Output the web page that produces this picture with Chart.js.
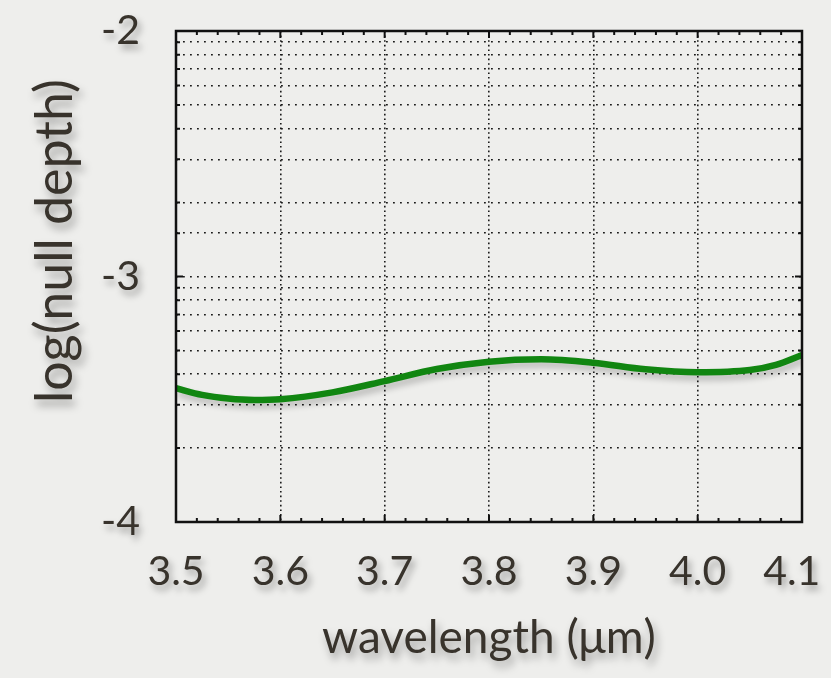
<!DOCTYPE html>
<html>
<head>
<meta charset="utf-8">
<script src="https://cdn.jsdelivr.net/npm/chart.js@4.4.1/dist/chart.umd.min.js"></script>
<style>
  html, body { margin: 0; padding: 0; background: #eeeeec; }
  #wrap { position: relative; width: 831px; height: 678px; }
</style>
</head>
<body>
<div id="wrap"><canvas id="chart"></canvas></div>
<script>
// Data
const wavelengths = [3.50, 3.525, 3.55, 3.575, 3.60, 3.65, 3.70, 3.75, 3.80, 3.85, 3.90, 3.95, 4.00, 4.05, 4.075, 4.10];
const logNullDepth = [-3.455, -3.482, -3.497, -3.503, -3.500, -3.472, -3.426, -3.377, -3.347, -3.337, -3.351, -3.378, -3.390, -3.381, -3.360, -3.320];

// Axes
const xMin = 3.5;
const xMax = 4.1;
const xStep = 0.1;
const xMinorStep = 0.02;
const yMinLog = -4;
const yMaxLog = -2;
const xTitle = "wavelength (μm)";
const yTitle = "log(null depth)";

const textColor = "#38332c";
const fontFamily = "Lato, 'Open Sans', sans-serif";

function setShadow(ctx, color, blur, dx, dy) {
  ctx.shadowColor = color;
  ctx.shadowBlur = blur;
  ctx.shadowOffsetX = dx;
  ctx.shadowOffsetY = dy;
}

// Soft shadows, frame, inward tick marks and the axis titles
const framePlugin = {
  id: "frame",
  beforeDatasetsDraw(chart) {
    chart.ctx.save();
    setShadow(chart.ctx, "rgba(0,0,0,0.22)", 6, 2, 5);
  },
  afterDatasetsDraw(chart) {
    chart.ctx.restore();
    // tick labels are drawn after this (ticks.z = 1)
    chart.ctx.save();
    setShadow(chart.ctx, "rgba(0,0,0,0.35)", 7, 3, 5);
  },
  afterDraw(chart) {
    const { ctx, chartArea: a, scales } = chart;
    ctx.restore();
    ctx.save();
    ctx.strokeStyle = "#111";
    ctx.lineWidth = 2;

    // x ticks (top and bottom, pointing in)
    const nMinor = Math.round((xMax - xMin) / xMinorStep);
    for (let i = 0; i <= nMinor; i++) {
      const px = scales.x.getPixelForValue(xMin + i * xMinorStep);
      const len = i % 5 === 0 ? 7 : 4;
      ctx.beginPath();
      ctx.moveTo(px, a.bottom);
      ctx.lineTo(px, a.bottom - len);
      ctx.moveTo(px, a.top);
      ctx.lineTo(px, a.top + len);
      ctx.stroke();
    }

    // y ticks (left and right, pointing in)
    scales.y.ticks.forEach((t) => {
      const py = scales.y.getPixelForValue(t.value);
      const len = isDecade(t.value) ? 7 : 4;
      ctx.beginPath();
      ctx.moveTo(a.left, py);
      ctx.lineTo(a.left + len, py);
      ctx.moveTo(a.right, py);
      ctx.lineTo(a.right - len, py);
      ctx.stroke();
    });

    // frame
    ctx.lineWidth = 2.5;
    ctx.strokeRect(a.left, a.top, a.right - a.left, a.bottom - a.top);

    // titles
    ctx.fillStyle = textColor;
    ctx.textAlign = "center";
    ctx.textBaseline = "middle";
    setShadow(ctx, "rgba(0,0,0,0.35)", 8, 3, 6);

    ctx.font = "46px " + fontFamily;
    ctx.fillText(xTitle, (a.left + a.right) / 2, 638);

    ctx.translate(55, 241);
    ctx.rotate(-Math.PI / 2);
    ctx.font = "52px " + fontFamily;
    ctx.fillText(yTitle, 0, 0);
    ctx.restore();
  },
};

function isDecade(v) {
  const l = Math.log10(v);
  return Math.abs(l - Math.round(l)) < 1e-6;
}

const points = wavelengths.map((w, i) => ({ x: w, y: Math.pow(10, logNullDepth[i]) }));

new Chart(document.getElementById("chart"), {
  type: "line",
  data: {
    datasets: [
      {
        data: points,
        borderColor: "#118611",
        borderWidth: 6.5,
        pointRadius: 0,
        cubicInterpolationMode: "monotone",
        fill: false,
      },
    ],
  },
  options: {
    responsive: true,
    maintainAspectRatio: false,
    animation: false,
    layout: {
      padding: { left: 0, top: 31, right: 29, bottom: 0 },
    },
    plugins: {
      legend: { display: false },
      tooltip: { enabled: false },
    },
    scales: {
      x: {
        type: "linear",
        min: xMin,
        max: xMax,
        afterFit: (scale) => {
          scale.height = 156;
          scale.paddingLeft = 0;
          scale.paddingRight = 0;
        },
        ticks: {
          z: 1,
          stepSize: xStep,
          autoSkip: false,
          maxRotation: 0,
          padding: 25,
          color: textColor,
          font: { family: fontFamily, size: 41 },
          // last label nudged left so it stays inside the canvas
          callback: (v) => (v >= xMax - 1e-9 ? v.toFixed(1) + "\u2002" : v.toFixed(1)),
        },
        grid: {
          color: "#1a1a1a",
          lineWidth: 1.6,
          drawTicks: false,
        },
        border: { display: false, dash: [1.6, 3] },
      },
      y: {
        type: "logarithmic",
        min: Math.pow(10, yMinLog),
        max: Math.pow(10, yMaxLog),
        afterFit: (scale) => {
          scale.width = 176;
          scale.paddingTop = 0;
          scale.paddingBottom = 0;
        },
        ticks: {
          z: 1,
          autoSkip: false,
          padding: 36,
          color: textColor,
          font: { family: fontFamily, size: 41 },
          callback: (v) => (isDecade(v) ? String(Math.round(Math.log10(v))) : ""),
        },
        grid: {
          color: "#1a1a1a",
          lineWidth: 1.6,
          drawTicks: false,
        },
        border: { display: false, dash: [1.8, 5.2] },
      },
    },
  },
  plugins: [framePlugin],
});
</script>
</body>
</html>
